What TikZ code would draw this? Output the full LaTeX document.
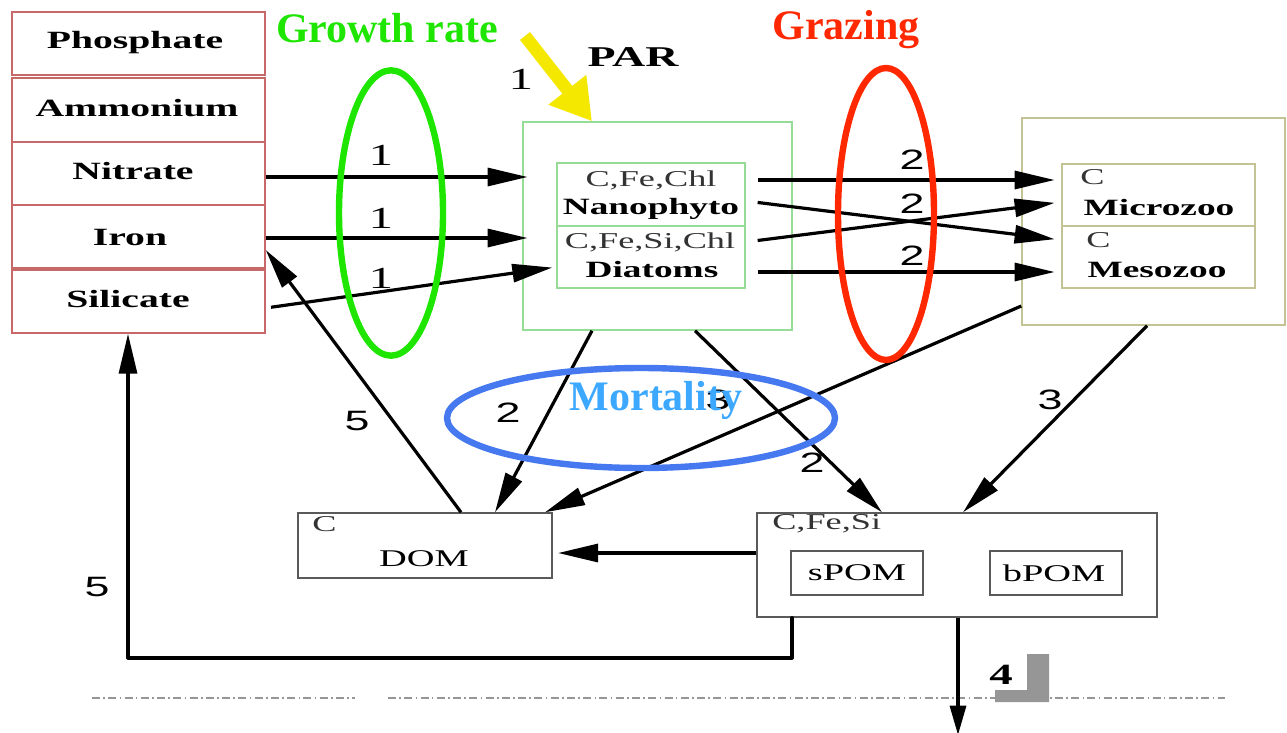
\documentclass[tikz,border=0pt]{standalone}
\usepackage{fontspec}
\setmainfont{Liberation Serif}
\newfontfamily\wserif[FakeStretch=1.6]{Liberation Serif}
\newfontfamily\wsans[FakeStretch=1.6]{Liberation Sans}
\usetikzlibrary{arrows.meta,fit,calc}
\definecolor{nutred}{RGB}{200,105,105}
\definecolor{phygreen}{RGB}{150,220,150}
\definecolor{zooolive}{RGB}{195,195,150}
\definecolor{boxgray}{RGB}{90,90,90}
\definecolor{ggreen}{RGB}{30,230,0}
\definecolor{gred}{RGB}{255,40,0}
\definecolor{mblue}{RGB}{70,120,240}
\definecolor{mtext}{RGB}{60,168,255}
\definecolor{paryellow}{RGB}{245,232,0}
\definecolor{lgray}{RGB}{150,150,150}
\tikzset{
  nutbox/.style={draw=nutred, line width=1.1pt, inner sep=0pt, fill=white},
  phybox/.style={draw=phygreen, line width=1.1pt, inner sep=0pt},
  zoobox/.style={draw=zooolive, line width=1.1pt, inner sep=0pt},
  graybox/.style={draw=boxgray, line width=1.1pt, inner sep=0pt},
  bold/.style={font=\wserif\bfseries\fontsize{17.5}{20}\selectfont, inner sep=0pt},
  nutlbl/.style={font=\wserif\bfseries\fontsize{18.6}{21}\selectfont, inner sep=0pt},
  small/.style={font=\wserif\fontsize{17}{19}\selectfont, text=black!80, inner sep=0pt},
  reg/.style={font=\wserif\fontsize{18}{20}\selectfont, inner sep=0pt},
  numsans/.style={font=\wsans\fontsize{21}{24}\selectfont, inner sep=0pt},
  numser/.style={font=\wserif\fontsize{23}{26}\selectfont, inner sep=0pt},
  big/.style={font=\bfseries\fontsize{31.5}{36}\selectfont, inner sep=0pt},
  arr/.style={line width=2.4pt, -{Triangle[length=30pt,width=13.5pt]}},
  ring/.style={line width=4.8pt},
}
\begin{document}
\begin{tikzpicture}[x=0.75pt,y=-0.75pt]
\useasboundingbox (0,0) rectangle (1287,732);
\fill[white] (0,0) rectangle (1287,732);

% nutrient column
\node[nutbox, fit={(12,12) (265,75)}] (phos) {};
\node[nutbox, fit={(12,78) (265,142)}] (amm) {};
\node[nutbox, fit={(12,142) (265,205)}] (nit) {};
\node[nutbox, fit={(12,205) (265,268)}] (iron) {};
\node[nutbox, fit={(12,270) (265,333)}] (sil) {};
\node[nutlbl] (tphos) at (135,43) {Phosphate};
\node[nutlbl] (tamm) at (137,108) {Ammonium};
\node[nutlbl] (tnit) at (133,171) {Nitrate};
\node[nutlbl] (tiron) at (130,237) {Iron};
\node[nutlbl] (tsil) at (128,299) {Silicate};

% phytoplankton
\node[phybox, fit={(523,122) (792,330)}] (phyto) {};
\node[phybox, fit={(557,163) (745,226)}] (nano) {};
\node[phybox, fit={(557,226) (745,288)}] (diat) {};
\node[small] (tnano1) at (651,180) {C,Fe,Chl};
\node[bold] (tnano2) at (651,209) {Nanophyto};
\node[small] (tdiat1) at (650,242) {C,Fe,Si,Chl};
\node[bold] (tdiat2) at (652,270) {Diatoms};

% zooplankton
\node[zoobox, fit={(1022,118) (1285,325)}] (zoo) {};
\node[zoobox, fit={(1062,164) (1255,226)}] (micro) {};
\node[zoobox, fit={(1062,226) (1255,288)}] (meso) {};
\node[small, anchor=west] (tmicro1) at (1080,177) {C};
\node[bold] (tmicro2) at (1159,208) {Microzoo};
\node[small, anchor=west] (tmeso1) at (1086,240) {C};
\node[bold] (tmeso2) at (1157,270) {Mesozoo};

% DOM, POM
\node[graybox, fit={(298,513) (552,578)}] (dom) {};
\node[small, anchor=west] (tdom1) at (312,524) {C};
\node[reg] (tdom2) at (424,559) {DOM};
\node[graybox, fit={(757,513) (1157,617)}] (pom) {};
\node[small, anchor=west] (tpom) at (772,524) {C,Fe,Si};
\node[graybox, fit={(791,551) (923,595)}] (spom) {};
\node[graybox, fit={(990,551) (1122,595)}] (bpom) {};
\node[reg] (tspom) at (857,573) {sPOM};
\node[reg] (tbpom) at (1054,573) {bPOM};

% PAR
\coordinate (parstart) at (525,36);
\draw[paryellow, line width=9.5pt, -{Triangle[length=30pt,width=34pt]}] (parstart) -- (phyto.north west -| 592,115);
\node[font=\wserif\bfseries\fontsize{21.5}{24}\selectfont] (par) at (633,57) {PAR};
\node[numser] (lpar) at (521,79) {1};

% uptake arrows
\draw[arr, shorten >=-4pt] (nit.east |- 0,177) -- (phyto.west |- 0,177);
\draw[arr, shorten >=-4pt] (iron.east |- 0,238) -- (phyto.west |- 0,238);
\draw[arr, shorten <=4pt, shorten >=3pt] (sil.east |- 0,308) -- (diat.west |- 0,267);
\node[numser] (l1a) at (381,155) {1};
\node[numser] (l1b) at (381,218) {1};
\node[numser] (l1c) at (381,278) {1};

% grazing arrows
\draw[arr, shorten <=9pt, shorten >=5pt] (nano.east |- 0,180) -- (micro.west |- 0,180);
\draw[arr, shorten <=9pt, shorten >=5pt] (nano.east |- 0,201) -- (meso.west |- 0,240);
\draw[arr, shorten <=9pt, shorten >=5pt] (diat.east |- 0,242) -- (micro.west |- 0,202);
\draw[arr, shorten <=9pt, shorten >=5pt] (diat.east |- 0,272) -- (meso.west |- 0,272);
\node[numsans] (l2a) at (912,160) {2};
\node[numsans] (l2b) at (912,204) {2};
\node[numsans] (l2c) at (912,256) {2};

% mortality / egestion
\draw[arr] (phyto.south -| 592,0) -- (dom.north -| 495,0);
\draw[arr] (zoo.south west |- 0,306) -- (dom.north -| 545,0);
\draw[arr] (phyto.south -| 695,0) -- (pom.north -| 882,0);
\draw[arr] (zoo.south -| 1147,0) -- (pom.north -| 963,0);
\draw[arr, shorten >=4pt] (pom.west |- 0,553) -- (dom.east |- 0,553);
\node[numsans] (l2d) at (508,413) {2};
\node[numsans] (l3a) at (718,400) {3};
\node[numsans] (l2e) at (812,463) {2};
\node[numsans] (l3b) at (1050,400) {3};

% remineralisation
\draw[arr] (dom.north -| 461,0) -- (iron.east |- 0,250);
\node[numsans] (l5a) at (357,421) {5};
\draw[arr, line cap=round, line join=round] (pom.south -| 792,0) -- (792,658) -- (128,658) -- (sil.south -| 128,0);
\node[numsans] (l5b) at (97,587) {5};

% export
\coordinate (bottom) at (958,735);
\coordinate (d1) at (92,698);
\coordinate (d2) at (355,698);
\coordinate (d3) at (388,698);
\coordinate (d4) at (1225,698);
\draw[lgray, line width=1.4pt, dash pattern=on 6pt off 2.5pt on 1.2pt off 2.5pt] (d1) -- (d2);
\draw[lgray, line width=1.4pt, dash pattern=on 6pt off 2.5pt on 1.2pt off 2.5pt] (d3) -- (d4);
\draw[arr, -{Triangle[length=22pt,width=12pt]}] (pom.south -| 958,0) -- (bottom);
\fill[lgray] (1027,654) -- (1049,654) -- (1049,702) -- (995,702) -- (995,690) -- (1027,690) -- cycle;
\node[font=\wserif\bfseries\fontsize{22}{24}\selectfont, inner sep=0pt] (l4) at (1001,675) {4};

% highlight annotations
\draw[ggreen, ring] (391,213) ellipse [x radius=39pt, y radius=107pt];
\node[big, text=ggreen] (growth) at (387,28) {Growth rate};
\draw[gred, ring] (886,214) ellipse [x radius=36pt, y radius=109.5pt];
\node[big, text=gred] (grazing) at (846,30) {Grazing};
\draw[mblue, ring] (641,418) ellipse [x radius=145.5pt, y radius=37.5pt];
\node[big, text=mtext] (mort) at (656,400) {Mortality};
\end{tikzpicture}
\end{document}
